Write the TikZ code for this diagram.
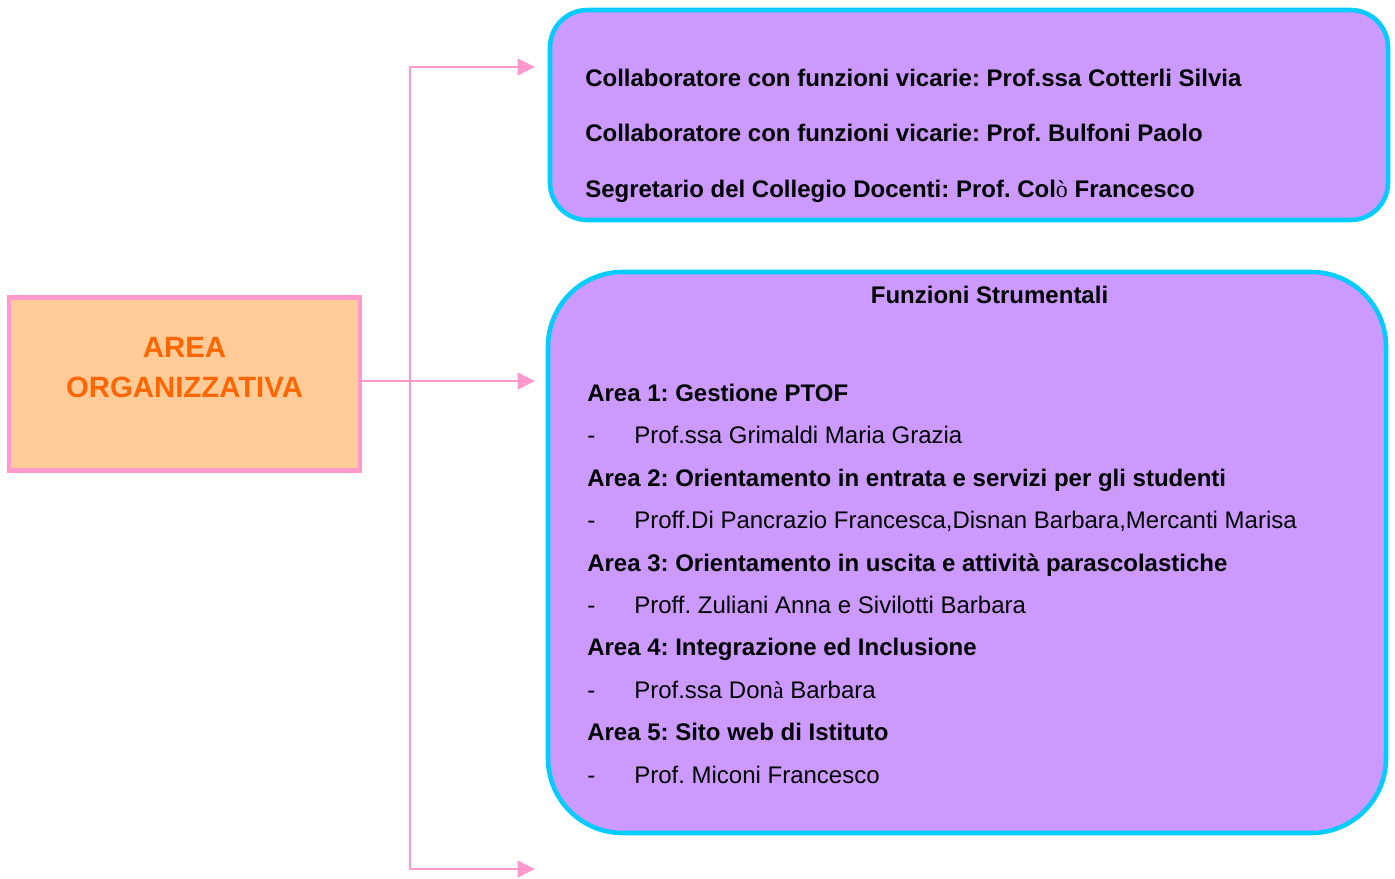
\documentclass[tikz,border=0pt]{standalone}
\usepackage{fontspec}
\setmainfont{Liberation Sans}
\newfontfamily\accfont{Liberation Serif}
\usetikzlibrary{positioning,arrows.meta}
\frenchspacing

\definecolor{linkpink}{HTML}{FF99CC}
\definecolor{areafill}{HTML}{FFCC99}
\definecolor{areatext}{HTML}{FF6600}
\definecolor{panelfill}{HTML}{CC99FF}
\definecolor{panelline}{HTML}{00CCFF}

\begin{document}
\begin{tikzpicture}[x=0.75pt, y=-0.75pt,
% Node styles
 areabox/.style={draw=linkpink, line width=3.4pt, fill=areafill, inner sep=0pt,
 minimum width=263pt, minimum height=130pt},
 panel/.style={draw=panelline, line width=3.4pt, fill=panelfill, inner sep=0pt},
% Edge styles
 link/.style={draw=linkpink, line width=1.8pt,
 {Triangle[length=13pt,width=12.5pt]}-{Triangle[length=13pt,width=12.5pt]}},
 arrow/.style={draw=linkpink, line width=1.8pt, -{Triangle[length=13pt,width=12.5pt]}},
% Label styles
 areatxt/.style={anchor=base, inner sep=0pt, text=areatext,
 font=\fontsize{22}{26}\selectfont\bfseries},
 head/.style={anchor=base west, inner sep=0pt, font=\fontsize{18}{21}\selectfont\bfseries},
 item/.style={anchor=base west, inner sep=0pt, font=\fontsize{18}{21}\selectfont}
]
\useasboundingbox (0,0) rectangle (1395,878);

\node[areabox] (area) at (184.5,384) {};
\node[areatxt] (area1) at (184.5,357) {AREA};
\node[areatxt] (area2) at (184.5,397) {ORGANIZZATIVA};

\node[panel, rounded corners=28pt, minimum width=628.5pt, minimum height=157.5pt]
 (vicari) at (969,115) {};
\node[panel, rounded corners=56pt, minimum width=628.5pt, minimum height=420.75pt]
 (funzioni) at (967,552.5) {};

% connectors
\coordinate (topend) at (535,67);
\coordinate (midend) at (535,381);
\coordinate (botend) at (535,869);
\coordinate (spinebot) at (410,869);
\draw[link] (topend) -| (spinebot) -- (botend);
\draw[arrow] (area.east |- midend) -- (midend);

% top panel
\node[head] (c1) at (585,86) {Collaboratore con funzioni vicarie: Prof.ssa Cotterli Silvia};
\node[head] (c2) at (585,141) {Collaboratore con funzioni vicarie: Prof. Bulfoni Paolo};
\node[head] (c3) at (585,197) {Segretario del Collegio Docenti: Prof. Col{\accfont\mdseries ò} Francesco};

% bottom panel
\node[head, anchor=base] (fs) at (989.5,303) {Funzioni Strumentali};

\node[head] (a1) at (587,401) {Area 1: Gestione PTOF};
\node[item] (d1) at (587,443) {-};
\node[item] (p1) at (634,443) {Prof.ssa Grimaldi Maria Grazia};
\node[head] (a2) at (587,486) {Area 2: Orientamento in entrata e servizi per gli studenti};
\node[item] (d2) at (587,528) {-};
\node[item] (p2) at (634,528) {Proff.Di Pancrazio Francesca,Disnan Barbara,Mercanti Marisa};
\node[head] (a3) at (587,571) {Area 3: Orientamento in uscita e attività parascolastiche};
\node[item] (d3) at (587,613) {-};
\node[item] (p3) at (634,613) {Proff. Zuliani Anna e Sivilotti Barbara};
\node[head] (a4) at (587,655) {Area 4: Integrazione ed Inclusione};
\node[item] (d4) at (587,698) {-};
\node[item] (p4) at (634,698) {Prof.ssa Don{\accfont à} Barbara};
\node[head] (a5) at (587,740) {Area 5: Sito web di Istituto};
\node[item] (d5) at (587,783) {-};
\node[item] (p5) at (634,783) {Prof. Miconi Francesco};

\end{tikzpicture}
\end{document}
